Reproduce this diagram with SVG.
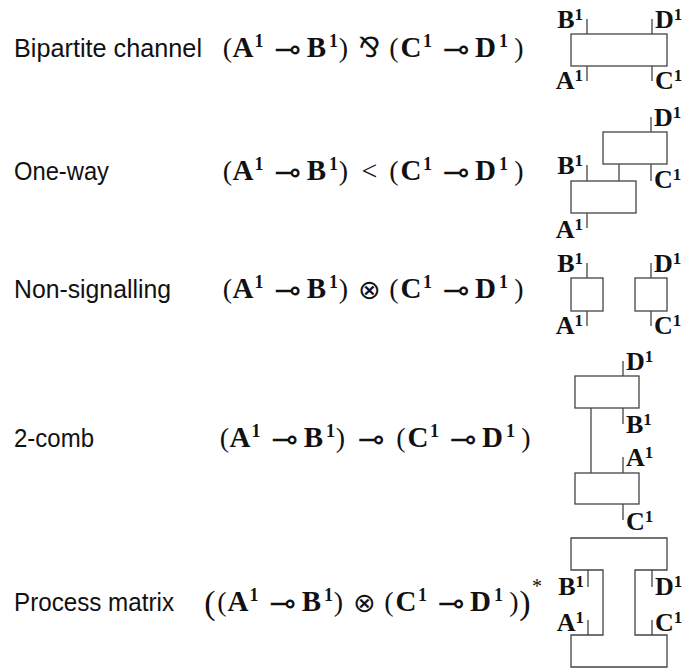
<svg xmlns="http://www.w3.org/2000/svg" width="683" height="668" viewBox="0 0 683 668">
<style>
.lab{font-family:"Liberation Sans",Arial,sans-serif;font-size:25.5px;fill:#111}
.r{font-family:"Liberation Serif","Times New Roman",serif;font-size:28px;fill:#111;text-anchor:middle}
.big{font-size:34px}
.b{font-family:"Liberation Serif","Times New Roman",serif;font-size:29px;font-weight:bold;fill:#111;text-anchor:middle}
.s{font-family:"Liberation Serif","Times New Roman",serif;font-size:18px;font-weight:bold;fill:#111;text-anchor:middle}
.st{font-family:"Liberation Serif","Times New Roman",serif;font-size:20px;fill:#111;text-anchor:middle}
.y{font-family:"DejaVu Sans","DejaVu Serif",sans-serif;font-size:32px;fill:#111;text-anchor:middle}
.ot{font-size:27px}
.par{font-size:28px}
.lt{font-size:28px}
.wl{font-family:"Liberation Serif","Times New Roman",serif;font-size:26px;font-weight:bold;fill:#111}
.wl tspan{font-size:17px}
.e{text-anchor:end}
.box{fill:#fff;stroke:#444;stroke-width:1.3}
.w{stroke:#444;stroke-width:1.3;fill:none}
</style>

<!-- Row labels -->
<g id="labels">
<text class="lab" x="14" y="57" textLength="188" lengthAdjust="spacingAndGlyphs">Bipartite channel</text>
<text class="lab" x="14" y="180" textLength="95" lengthAdjust="spacingAndGlyphs">One-way</text>
<text class="lab" x="14" y="298" textLength="157" lengthAdjust="spacingAndGlyphs">Non-signalling</text>
<text class="lab" x="14" y="447" textLength="80" lengthAdjust="spacingAndGlyphs">2-comb</text>
<text class="lab" x="14" y="611" textLength="160" lengthAdjust="spacingAndGlyphs">Process matrix</text>
</g>

<!-- Formula row 1 -->
<g id="formula-bipartite">
<text class="r" x="227.5" y="57">(</text>
<text class="b" x="243" y="57">A</text>
<text class="s" x="259" y="47">1</text>
<text class="y" x="287.5" y="60">⊸</text>
<text class="b" x="316.5" y="57">B</text>
<text class="s" x="333.5" y="47">1</text>
<text class="r" x="343.5" y="57">)</text>
<text class="y par" x="369.5" y="57">⅋</text>
<text class="r" x="394" y="57">(</text>
<text class="b" x="411" y="57">C</text>
<text class="s" x="427.5" y="47">1</text>
<text class="y" x="456" y="60">⊸</text>
<text class="b" x="485.5" y="57">D</text>
<text class="s" x="503.5" y="47">1</text>
<text class="r" x="519" y="57">)</text>
</g>

<!-- Formula row 2 -->
<g id="formula-oneway">
<text class="r" x="227.5" y="180">(</text>
<text class="b" x="243" y="180">A</text>
<text class="s" x="259" y="170">1</text>
<text class="y" x="287.5" y="183">⊸</text>
<text class="b" x="316.5" y="180">B</text>
<text class="s" x="333.5" y="170">1</text>
<text class="r" x="343.5" y="180">)</text>
<text class="r lt" x="369.5" y="180">&lt;</text>
<text class="r" x="394" y="180">(</text>
<text class="b" x="411" y="180">C</text>
<text class="s" x="427.5" y="170">1</text>
<text class="y" x="456" y="183">⊸</text>
<text class="b" x="485.5" y="180">D</text>
<text class="s" x="503.5" y="170">1</text>
<text class="r" x="519" y="180">)</text>
</g>

<!-- Formula row 3 -->
<g id="formula-nonsignalling">
<text class="r" x="227.5" y="298">(</text>
<text class="b" x="243" y="298">A</text>
<text class="s" x="259" y="288">1</text>
<text class="y" x="287.5" y="301">⊸</text>
<text class="b" x="316.5" y="298">B</text>
<text class="s" x="333.5" y="288">1</text>
<text class="r" x="343.5" y="298">)</text>
<text class="y ot" x="369.5" y="299">⊗</text>
<text class="r" x="394" y="298">(</text>
<text class="b" x="411" y="298">C</text>
<text class="s" x="427.5" y="288">1</text>
<text class="y" x="456" y="301">⊸</text>
<text class="b" x="485.5" y="298">D</text>
<text class="s" x="503.5" y="288">1</text>
<text class="r" x="519" y="298">)</text>
</g>

<!-- Formula row 4 -->
<g id="formula-comb">
<text class="r" x="224.5" y="447">(</text>
<text class="b" x="240" y="447">A</text>
<text class="s" x="256" y="437">1</text>
<text class="y" x="284.5" y="450">⊸</text>
<text class="b" x="313.5" y="447">B</text>
<text class="s" x="330.5" y="437">1</text>
<text class="r" x="340.5" y="447">)</text>
<text class="y" x="371" y="450">⊸</text>
<text class="r" x="401" y="447">(</text>
<text class="b" x="418" y="447">C</text>
<text class="s" x="434.5" y="437">1</text>
<text class="y" x="463" y="450">⊸</text>
<text class="b" x="492.5" y="447">D</text>
<text class="s" x="510.5" y="437">1</text>
<text class="r" x="526" y="447">)</text>
</g>

<!-- Formula row 5 -->
<g id="formula-process">
<text class="r big" x="210" y="614">(</text>
<text class="r" x="222" y="611">(</text>
<text class="b" x="238" y="611">A</text>
<text class="s" x="254" y="601">1</text>
<text class="y" x="282.5" y="614">⊸</text>
<text class="b" x="311.5" y="611">B</text>
<text class="s" x="328.5" y="601">1</text>
<text class="r" x="338.5" y="611">)</text>
<text class="y ot" x="364.5" y="612">⊗</text>
<text class="r" x="389" y="611">(</text>
<text class="b" x="406" y="611">C</text>
<text class="s" x="422.5" y="601">1</text>
<text class="y" x="451" y="614">⊸</text>
<text class="b" x="480.5" y="611">D</text>
<text class="s" x="498.5" y="601">1</text>
<text class="r" x="514" y="611">)</text>
<text class="r big" x="525" y="614">)</text>
<text class="st" x="537" y="593">*</text>
</g>

<!-- Connectors (wires) -->
<g id="connectors">
<line class="w" x1="587" y1="19" x2="587" y2="34"/>
<line class="w" x1="587" y1="66" x2="587" y2="81"/>
<line class="w" x1="652" y1="19" x2="652" y2="34"/>
<line class="w" x1="652" y1="66" x2="652" y2="81"/>
<line class="w" x1="651" y1="117" x2="651" y2="132"/>
<line class="w" x1="651" y1="164" x2="651" y2="181"/>
<line class="w" x1="619" y1="164" x2="619" y2="181"/>
<line class="w" x1="587" y1="165" x2="587" y2="181"/>
<line class="w" x1="587" y1="213" x2="587" y2="228"/>
<line class="w" x1="587" y1="263" x2="587" y2="278"/>
<line class="w" x1="587" y1="311" x2="587" y2="326"/>
<line class="w" x1="651" y1="263" x2="651" y2="278"/>
<line class="w" x1="651" y1="311" x2="651" y2="326"/>
<line class="w" x1="623" y1="361" x2="623" y2="376"/>
<line class="w" x1="623" y1="408" x2="623" y2="424"/>
<line class="w" x1="591" y1="408" x2="591" y2="473"/>
<line class="w" x1="623" y1="457" x2="623" y2="473"/>
<line class="w" x1="623" y1="504" x2="623" y2="520"/>
<line class="w" x1="588" y1="570" x2="588" y2="587"/>
<line class="w" x1="588" y1="620" x2="588" y2="635"/>
<line class="w" x1="652" y1="570" x2="652" y2="587"/>
<line class="w" x1="652" y1="620" x2="652" y2="635"/>
</g>

<!-- Nodes -->
<g id="node-bipartite">
<rect class="box" x="571" y="34" width="96" height="32"/>
<text class="wl e" x="583" y="28">B<tspan dy="-8">1</tspan></text>
<text class="wl" x="655" y="28">D<tspan dy="-8">1</tspan></text>
<text class="wl e" x="583" y="89">A<tspan dy="-8">1</tspan></text>
<text class="wl" x="655" y="89">C<tspan dy="-8">1</tspan></text>
</g>

<g id="node-oneway-upper">
<rect class="box" x="603" y="132" width="64" height="32"/>
<text class="wl" x="654" y="126">D<tspan dy="-8">1</tspan></text>
<text class="wl" x="654" y="188">C<tspan dy="-8">1</tspan></text>
</g>
<g id="node-oneway-lower">
<rect class="box" x="571" y="181" width="65" height="32"/>
<text class="wl e" x="583" y="174">B<tspan dy="-8">1</tspan></text>
<text class="wl e" x="583" y="238">A<tspan dy="-8">1</tspan></text>
</g>

<g id="node-nonsig-left">
<rect class="box" x="571" y="278" width="32" height="33"/>
<text class="wl e" x="583" y="272">B<tspan dy="-8">1</tspan></text>
<text class="wl e" x="583" y="334">A<tspan dy="-8">1</tspan></text>
</g>
<g id="node-nonsig-right">
<rect class="box" x="635" y="278" width="32" height="33"/>
<text class="wl" x="654" y="272">D<tspan dy="-8">1</tspan></text>
<text class="wl" x="654" y="334">C<tspan dy="-8">1</tspan></text>
</g>

<g id="node-comb-upper">
<rect class="box" x="575" y="376" width="64" height="32"/>
<text class="wl" x="626" y="370">D<tspan dy="-8">1</tspan></text>
<text class="wl" x="626" y="433">B<tspan dy="-8">1</tspan></text>
</g>
<g id="node-comb-lower">
<rect class="box" x="575" y="473" width="64" height="31"/>
<text class="wl" x="626" y="466">A<tspan dy="-8">1</tspan></text>
<text class="wl" x="626" y="530">C<tspan dy="-8">1</tspan></text>
</g>

<g id="node-process">
<path class="box" d="M571,538 H667 V570 H635 V635 H667 V667 H571 V635 H603 V570 H571 Z"/>
<text class="wl e" x="584" y="595">B<tspan dy="-8">1</tspan></text>
<text class="wl e" x="584" y="631">A<tspan dy="-8">1</tspan></text>
<text class="wl" x="655" y="595">D<tspan dy="-8">1</tspan></text>
<text class="wl" x="655" y="631">C<tspan dy="-8">1</tspan></text>
</g>
</svg>
